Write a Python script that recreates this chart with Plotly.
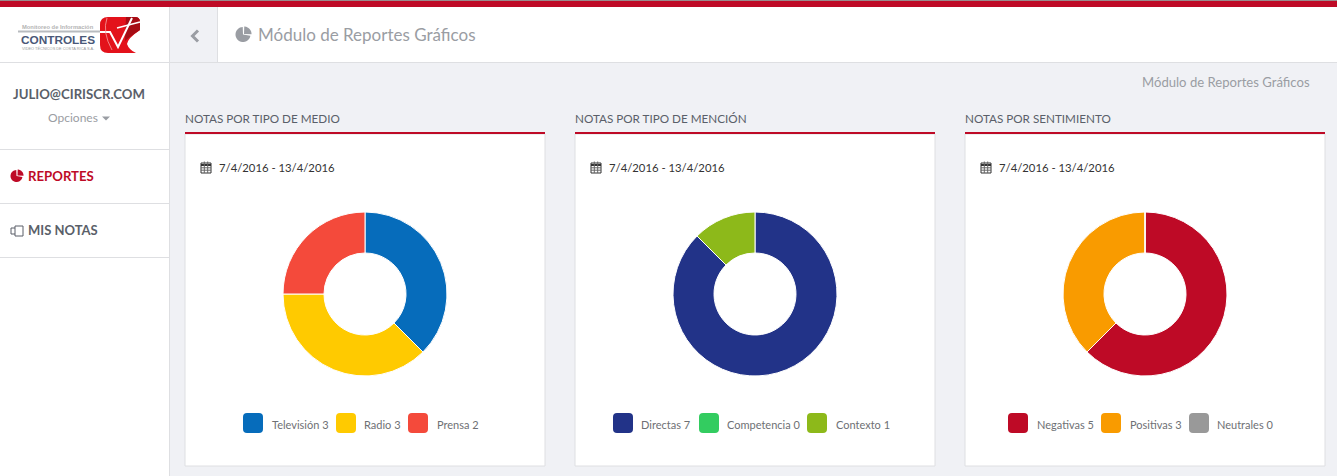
import math
import plotly.graph_objects as go

# donut values
medio_labels = ["Televisión", "Radio", "Prensa"]
medio_values = [3, 3, 2]
medio_colors = ["#066CBB", "#FFCA00", "#F44A3B"]

mencion_labels = ["Directas", "Competencia", "Contexto"]
mencion_values = [7, 0, 1]
mencion_colors = ["#223388", "#33CC60", "#8DB91A"]

sentimiento_labels = ["Negativas", "Positivas", "Neutrales"]
sentimiento_values = [5, 3, 0]
sentimiento_colors = ["#BE0A26", "#F99B00", "#999999"]

panel_titles = ["NOTAS POR TIPO DE MEDIO", "NOTAS POR TIPO DE MENCIÓN", "NOTAS POR SENTIMIENTO"]
date_range = "7/4/2016 - 13/4/2016"
page_title = "Módulo de Reportes Gráficos"

W, H = 1337, 476
RED = "#BE0A26"
BG = "#F0F1F5"
LINE = "#DEDFE2"
DARK = "#5A5F69"
GREY = "#9A9DA3"
FONT = "Lato"

shapes = []
notes = []


def rect(x0, y0, x1, y1, fill, line=None):
    shapes.append(dict(type="rect", x0=x0, y0=y0, x1=x1, y1=y1, fillcolor=fill, layer="below",
                       line=dict(color=line or fill, width=1 if line else 0)))


def path(d, fill="rgba(0,0,0,0)", line=None, width=1):
    shapes.append(dict(type="path", path=d, fillcolor=fill, layer="below",
                       line=dict(color=line or "rgba(0,0,0,0)", width=width if line else 0)))


def text(x, y, s, size=13, color=DARK, anchor="left", weight=400, family=FONT):
    # annotations carry about 2px of padding, take it back
    shift = {"left": -2, "right": 2, "center": 0}[anchor]
    notes.append(dict(x=x, y=y, text=s, showarrow=False, xanchor=anchor, yanchor="middle", xshift=shift,
                      font=dict(family=family, size=size, color=color, weight=weight)))


def sector(cx, cy, r, a0, a1, fill):
    # angles clockwise from 12 o'clock
    pts = [(cx, cy)]
    for i in range(25):
        a = math.radians(a0 + (a1 - a0) * i / 24)
        pts.append((cx + r * math.sin(a), cy - r * math.cos(a)))
    path("M" + " L".join(f"{x:.2f},{y:.2f}" for x, y in pts) + " Z", fill)


def rounded(x0, y0, x1, y1, r, fill):
    path(f"M{x0 + r},{y0} L{x1 - r},{y0} Q{x1},{y0} {x1},{y0 + r} L{x1},{y1 - r} Q{x1},{y1} {x1 - r},{y1} "
         f"L{x0 + r},{y1} Q{x0},{y1} {x0},{y1 - r} L{x0},{y0 + r} Q{x0},{y0} {x0 + r},{y0} Z", fill)


def pie_icon(cx, cy, r, color):
    sector(cx, cy, r, 100, 358, color)
    sector(cx + 1, cy - 0.5, r, 2, 92, color)


def calendar(x, y):
    c = "#333333"
    rect(x, y + 1, x + 10, y + 11, "white", c)
    shapes.append(dict(type="line", x0=x, x1=x + 10, y0=y + 3, y1=y + 3, layer="below", line=dict(color=c, width=2)))
    for i in (3.3, 6.7):
        shapes.append(dict(type="line", x0=x + i, x1=x + i, y0=y - 0.5, y1=y + 11, layer="below",
                           line=dict(color="#666666", width=1)))
    for j in (5.8, 8.2):
        shapes.append(dict(type="line", x0=x, x1=x + 10, y0=y + j, y1=y + j, layer="below",
                           line=dict(color="#666666", width=1)))


# page chrome
rect(0, 0, W, H, BG)
rect(170, 7, W, 62, "white")
rect(0, 7, 169, H, "white")
rect(170, 7, 217, 62, BG)
rect(0, 0, W, 7, RED)
rect(0, 0, W, 1, "#9A8A8C")
rect(169, 7, 170, H, LINE)
rect(217, 7, 218, 62, LINE)
rect(0, 62, W, 63, LINE)
for yy in (149, 203, 257):
    rect(0, yy, 169, yy + 1, LINE)

# logo
rect(18, 30.5, 100, 32.5, "#B8BBBF")
text(58, 26.5, "Monitoreo de Información", size=5.8, color="#B4B4B4", anchor="center", weight=700, family="Liberation Sans")
text(58, 40, "CONTROLES", size=11.8, color="#4A5878", anchor="center", weight=700, family="Liberation Sans")
text(58, 48.5, "VIDEO TÉCNICOS DE COSTA RICA S.A.", size=3.9, color="#9A9A9A", anchor="center", family="Liberation Sans")
path("M108,17 L135,17 Q140,17 140,22 L140,30 Q128,38 127,44 Q129,50 136,53 L108,53 Q100,53 100,45 L100,25 Q100,17 108,17 Z", "#E3121B")
path("M126,17 L135,17 Q140,17 140,22 L140,30 Q128,38 125,41 Z", "#A60C14")
path("M100,32 L110,32 L118,47 L132,18", line="white", width=2)
path("M117,28 L140,22", line="white", width=1.5)
path("M107,18 Q102,32 112,50", line="#F6A0A0", width=0.8)

# sidebar
text(79, 94, "JULIO@CIRISCR.COM", size=13.2, anchor="center", weight=700)
text(73, 117.5, "Opciones", size=12, color=GREY, anchor="center")
path("M102,116.5 L110,116.5 L106,120.5 Z", GREY)
pie_icon(16.5, 176, 6, RED)
text(28, 176, "REPORTES", size=13.2, color=RED, weight=700)
rect(11, 228, 18, 234, "white", DARK)
rect(15, 226, 23, 236, "white", DARK)
text(28, 230, "MIS NOTAS", size=13, weight=700)

# header
path("M198,30.5 L192.5,36 L198,41.5", line=GREY, width=3)
pie_icon(243, 34.5, 7.5, GREY)
text(258, 34.5, page_title, size=17, color=GREY)
text(1310, 82, page_title, size=13.1, color=GREY, anchor="right")

fig = go.Figure()
panels = [
    (185, medio_labels, medio_values, medio_colors, [243, 336, 408], [271.5, 364, 436.5]),
    (575, mencion_labels, mencion_values, mencion_colors, [613, 699, 807], [641, 726.5, 835.5]),
    (965, sentimiento_labels, sentimiento_values, sentimiento_colors, [1008, 1101, 1189], [1036.5, 1129.5, 1217]),
]
for (x0, labels, values, colors, swatch_x, label_x), title in zip(panels, panel_titles):
    text(x0, 117.5, title, size=11.7)
    rect(x0, 134, x0 + 360, 466, "white", LINE)
    rect(x0, 132, x0 + 360, 134, RED)
    calendar(x0 + 16, 162)
    text(x0 + 34, 167.5, date_range, size=11.3, color="#333333")
    cx = x0 + 180
    fig.add_trace(go.Pie(
        labels=labels, values=values, hole=0.5, sort=False, direction="clockwise", rotation=0,
        marker=dict(colors=colors, line=dict(color="white", width=1)),
        textinfo="none", hoverinfo="label+value", showlegend=False,
        domain=dict(x=[(cx - 82) / W, (cx + 82) / W], y=[1 - 376 / H, 1 - 212 / H]),
    ))
    for sx, tx, label, value, color in zip(swatch_x, label_x, labels, values, colors):
        rounded(sx, 413, sx + 20, 433, 4, color)
        text(tx, 424.5, f"{label} {value}", size=11, color="#6E7074")

fig.update_layout(
    width=W, height=H, margin=dict(l=0, r=0, t=0, b=0), paper_bgcolor=BG, plot_bgcolor=BG,
    xaxis=dict(range=[0, W], visible=False, fixedrange=True),
    yaxis=dict(range=[H, 0], visible=False, fixedrange=True),
    shapes=shapes, annotations=notes, font=dict(family=FONT),
)
# pie traces alone don't make the cartesian axes, so shapes need an empty scatter on them
fig.add_trace(go.Scatter(x=[], y=[], showlegend=False))

fig.write_html("out.html", config=dict(displayModeBar=False),
               post_script="document.body.style.margin='0';document.body.style.overflow='hidden';")
